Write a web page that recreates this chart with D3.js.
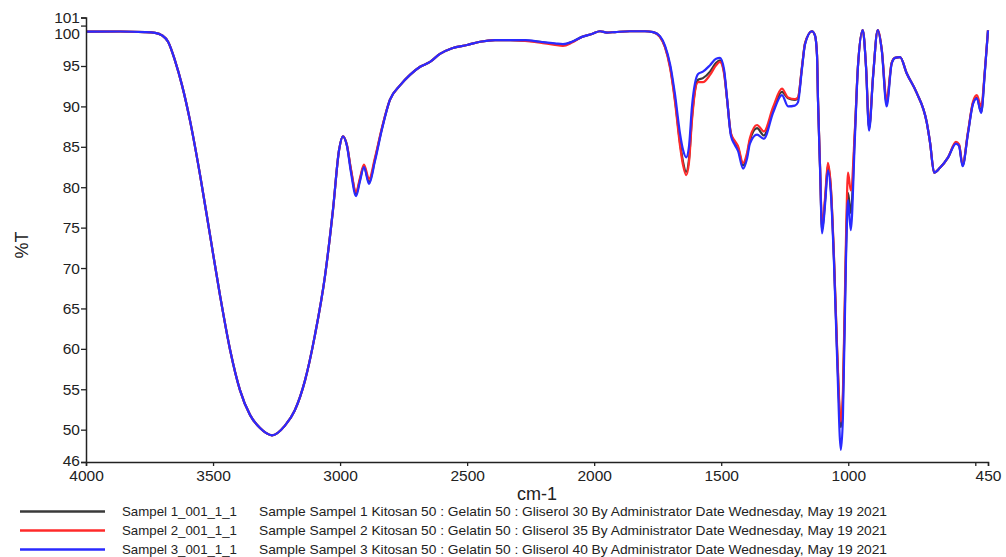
<!DOCTYPE html>
<html>
<head>
<meta charset="utf-8">
<script src="https://cdn.jsdelivr.net/npm/d3@7"></script>
<style>
  body { margin: 0; background: #fff; }
  svg { display: block; font-family: "Liberation Sans", Arial, sans-serif; }
</style>
</head>
<body>
<svg id="chart" width="1006" height="557"></svg>
<script>
// wavenumbers (cm-1), high to low
const wavenumbers = [4000, 3866, 3768, 3728, 3701, 3677, 3650, 3622, 3591, 3551,
  3512, 3473, 3433, 3394, 3354, 3315, 3268, 3217, 3178, 3138,
  3099, 3059, 3028, 3004, 2989, 2973, 2957, 2937, 2922, 2906,
  2886, 2863, 2835, 2804, 2764, 2725, 2685, 2646, 2607, 2559,
  2500, 2449, 2390, 2331, 2272, 2213, 2154, 2123, 2087, 2048,
  2009, 1977, 1950, 1918, 1859, 1800, 1768, 1741, 1721, 1701,
  1682, 1662, 1650, 1638, 1627, 1615, 1591, 1572, 1544, 1520,
  1505, 1489, 1477, 1462, 1446, 1434, 1414, 1398, 1387, 1359,
  1332, 1296, 1261, 1237, 1210, 1198, 1182, 1170, 1143, 1131,
  1123, 1119, 1111, 1103, 1091, 1080, 1068, 1056, 1044, 1029,
  1021, 1009, 1001, 990, 974, 962, 943, 930, 918, 902,
  884, 868, 849, 829, 816, 796, 770, 731, 691, 678,
  662, 639, 607, 576, 564, 550, 529, 509, 494, 477,
  462, 450];

const sampel1 = [99.25, 99.27, 99.2, 99.1, 98.8, 98.0, 95.7, 92.6, 88.3, 81.5,
  74.1, 66.7, 59.9, 54.9, 51.8, 50.2, 49.3, 50.5, 52.4, 56.1,
  61.7, 69.1, 77.2, 84.6, 86.3, 85.2, 82.1, 79.2, 80.9, 82.6,
  80.6, 83.4, 87.3, 90.8, 92.6, 93.9, 94.9, 95.5, 96.5, 97.2,
  97.6, 98.0, 98.2, 98.2, 98.15, 98.0, 97.7, 97.6, 98.0, 98.6,
  98.96, 99.3, 99.14, 99.2, 99.3, 99.3, 99.2, 98.6, 97.35, 94.9,
  90.9, 85.5, 83.1, 81.9, 83.4, 88.7, 93.3, 93.5, 94.3, 95.4,
  95.7, 94.3, 90.9, 86.6, 85.5, 84.9, 82.7, 84.0, 85.8, 87.3,
  86.4, 89.6, 91.8, 91.0, 90.8, 91.0, 94.9, 97.8, 99.3, 98.8,
  96.4, 90.8, 82.5, 74.7, 78.4, 82.7, 79.6, 71.0, 59.9, 50.3,
  53.7, 72.2, 79.3, 76.8, 86.7, 94.9, 99.45, 94.9, 87.3, 93.9,
  99.45, 97.0, 90.4, 95.4, 96.0, 96.1, 94.1, 91.7, 88.0, 85.5,
  81.8, 82.4, 83.7, 85.5, 85.2, 82.7, 86.7, 90.4, 91.1, 89.3,
  94.5, 99.4];

const sampel2 = [99.25, 99.27, 99.2, 99.1, 98.8, 98.0, 95.7, 92.6, 88.3, 81.5,
  74.1, 66.7, 59.9, 54.9, 51.8, 50.2, 49.3, 50.5, 52.4, 56.1,
  61.7, 69.1, 77.2, 84.6, 86.3, 85.2, 82.2, 79.4, 81.1, 82.8,
  81.0, 83.6, 87.4, 90.8, 92.6, 93.9, 94.9, 95.5, 96.5, 97.2,
  97.6, 98.0, 98.2, 98.2, 98.1, 97.9, 97.6, 97.5, 97.9, 98.6,
  98.96, 99.3, 99.14, 99.2, 99.3, 99.3, 99.2, 98.6, 97.3, 94.7,
  90.6, 85.1, 82.7, 81.5, 83.0, 88.3, 93.0, 93.0, 93.9, 95.1,
  95.5, 94.1, 90.9, 86.7, 85.7, 85.1, 83.0, 84.3, 86.1, 87.7,
  86.9, 89.9, 92.2, 91.1, 90.9, 91.1, 94.9, 97.8, 99.3, 98.8,
  96.4, 90.8, 82.6, 75.1, 78.8, 83.0, 79.8, 71.2, 60.2, 51.0,
  54.5, 73.5, 81.8, 79.6, 87.0, 94.9, 99.45, 94.9, 87.5, 93.9,
  99.45, 97.0, 90.8, 95.4, 96.0, 96.1, 94.1, 91.7, 88.0, 85.5,
  81.8, 82.4, 83.7, 85.6, 85.3, 82.8, 86.8, 90.6, 91.4, 90.0,
  94.6, 99.4];

const sampel3 = [99.25, 99.27, 99.2, 99.1, 98.8, 98.0, 95.7, 92.6, 88.3, 81.5,
  74.1, 66.7, 59.9, 54.9, 51.8, 50.2, 49.3, 50.5, 52.4, 56.1,
  61.7, 69.1, 77.2, 84.6, 86.3, 85.1, 81.8, 78.9, 80.7, 82.5,
  80.4, 83.2, 87.2, 90.8, 92.6, 93.9, 94.9, 95.5, 96.5, 97.2,
  97.6, 98.0, 98.2, 98.2, 98.2, 98.0, 97.8, 97.7, 98.0, 98.6,
  98.96, 99.3, 99.14, 99.2, 99.3, 99.3, 99.2, 98.7, 97.5, 95.2,
  91.5, 86.6, 84.6, 83.7, 85.0, 90.0, 94.0, 94.3, 95.1, 95.9,
  96.0, 94.6, 91.0, 86.4, 85.2, 84.5, 82.3, 83.6, 85.4, 86.5,
  86.0, 89.2, 91.4, 90.0, 90.1, 90.5, 94.7, 97.7, 99.3, 98.8,
  96.3, 90.6, 82.2, 74.3, 78.0, 82.1, 79.0, 70.5, 59.0, 47.5,
  51.5, 71.0, 78.4, 74.7, 86.0, 94.8, 99.45, 94.8, 87.0, 93.8,
  99.45, 96.9, 90.0, 95.3, 96.0, 96.1, 94.1, 91.7, 88.0, 85.5,
  81.8, 82.4, 83.7, 85.4, 85.1, 82.6, 86.6, 90.3, 91.0, 89.2,
  94.4, 99.4];

const seriesNames = ["Sampel 1_001_1_1", "Sampel 2_001_1_1", "Sampel 3_001_1_1"];
const seriesDescs = [
  "Sample Sampel 1 Kitosan 50 : Gelatin 50 : Gliserol 30 By Administrator Date Wednesday, May 19 2021",
  "Sample Sampel 2 Kitosan 50 : Gelatin 50 : Gliserol 35 By Administrator Date Wednesday, May 19 2021",
  "Sample Sampel 3 Kitosan 50 : Gelatin 50 : Gliserol 40 By Administrator Date Wednesday, May 19 2021"
];
const seriesColors = ["#3a3a3a", "#ff2a2a", "#2a2aff"];
const seriesValues = [sampel1, sampel2, sampel3];

const xTicks = [4000, 3500, 3000, 2500, 2000, 1500, 1000, 500, 450];
const yTicks = [101, 100, 95, 90, 85, 80, 75, 70, 65, 60, 55, 50, 46];

const svg = d3.select("#chart");

const x = d3.scaleLinear().domain([4000, 450]).range([86, 988]);
const y = d3.scaleLinear().domain([46, 101]).range([462, 17.5]);

// lines
const line = d3.line()
  .x(d => x(d[0]))
  .y(d => y(d[1]))
  .curve(d3.curveMonotoneX);

seriesValues.forEach((vals, i) => {
  svg.append("path")
    .datum(wavenumbers.map((w, j) => [w, vals[j]]))
    .attr("fill", "none")
    .attr("stroke", seriesColors[i])
    .attr("stroke-width", 2.2)
    .attr("stroke-linejoin", "round")
    .attr("d", line);
});

// x axis
const xAxis = svg.append("g")
  .attr("transform", "translate(0,462)")
  .call(d3.axisBottom(x).tickValues(xTicks).tickSize(4).tickPadding(4)
    .tickFormat(d => d === 500 ? "" : d));
xAxis.select(".domain").attr("stroke", "#222").attr("stroke-width", 1.5);
xAxis.selectAll(".tick line").attr("stroke", "#222").attr("stroke-width", 1.3);
xAxis.selectAll("text").attr("font-size", 15.5).attr("fill", "#222");

// y axis
const yAxis = svg.append("g")
  .attr("transform", "translate(86,0)")
  .call(d3.axisLeft(y).tickValues(yTicks).tickSize(5).tickPadding(1));
yAxis.select(".domain").attr("stroke", "#222").attr("stroke-width", 1.5);
yAxis.selectAll(".tick line").attr("stroke", "#222").attr("stroke-width", 1.3);
yAxis.selectAll("text").attr("font-size", 15.5).attr("fill", "#222");
// 100 label sits below its tick to clear 101
yAxis.selectAll(".tick").filter(d => d === 100).select("text").attr("dy", "0.85em");
yAxis.selectAll(".tick").filter(d => d === 46).select("text").attr("dy", "0.2em");

// axis titles
svg.append("text")
  .attr("x", 537).attr("y", 500)
  .attr("text-anchor", "middle")
  .attr("font-size", 18)
  .attr("fill", "#222")
  .text("cm-1");

svg.append("text")
  .attr("transform", "translate(28,245) rotate(-90)")
  .attr("text-anchor", "middle")
  .attr("font-size", 18)
  .attr("fill", "#222")
  .text("%T");

// legend
const legend = svg.append("g");
seriesNames.forEach((name, i) => {
  const ly = 511.5 + i * 19;
  legend.append("line")
    .attr("x1", 20).attr("x2", 105)
    .attr("y1", ly).attr("y2", ly)
    .attr("stroke", seriesColors[i])
    .attr("stroke-width", 2.5);
  legend.append("text")
    .attr("x", 122).attr("y", ly + 4.5)
    .attr("font-size", 13)
    .attr("fill", "#222")
    .attr("textLength", 115)
    .attr("lengthAdjust", "spacingAndGlyphs")
    .text(name);
  legend.append("text")
    .attr("x", 259).attr("y", ly + 4.5)
    .attr("font-size", 13)
    .attr("fill", "#222")
    .attr("textLength", 628)
    .attr("lengthAdjust", "spacingAndGlyphs")
    .text(seriesDescs[i]);
});
</script>
</body>
</html>
